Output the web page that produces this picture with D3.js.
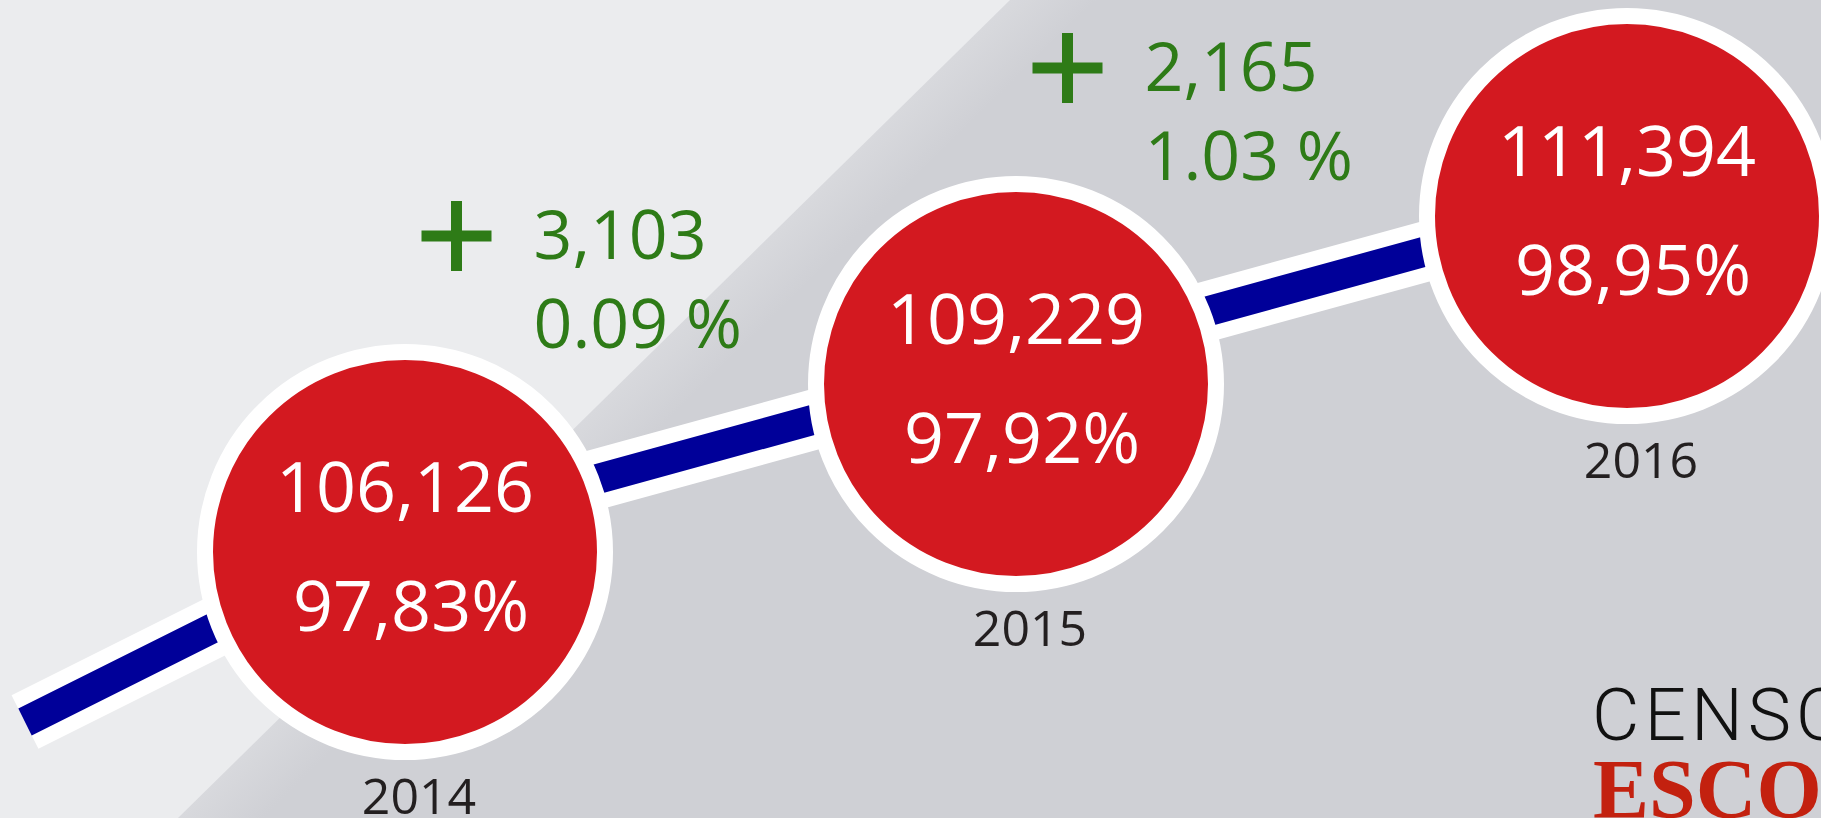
<!DOCTYPE html>
<html>
<head>
<meta charset="utf-8">
<script src="https://cdn.jsdelivr.net/npm/d3@7"></script>
<style>
  html, body { margin: 0; padding: 0; background: #ebecee; overflow: hidden; }
  svg { display: block; }
</style>
</head>
<body>
<svg id="chart" width="1821" height="818"></svg>
<script>
// ---- data ----
const years = [2014, 2015, 2016];
const enrollments = [106126, 109229, 111394];
const rates = [97.83, 97.92, 98.95];
const logoTop = "CENSO";
const logoBottom = "ESCOLAR";

// ---- formatting ----
const fmtThousands = d3.format(",");
const ptLocale = d3.formatLocale({ decimal: ",", thousands: ".", grouping: [3], currency: ["", ""] });
const fmtRate = v => ptLocale.format(".2f")(v) + "%";
const fmtDelta = v => d3.format(".2f")(v) + " %";

const W = 1821, H = 818;
const svg = d3.select("#chart");

// ---- background ----
const defs = svg.append("defs");
const grad = defs.append("linearGradient")
  .attr("id", "bgGrad").attr("gradientUnits", "userSpaceOnUse")
  .attr("x1", 594).attr("y1", 409).attr("x2", 594 + 0.70 * 60).attr("y2", 409 + 0.713 * 60);
grad.append("stop").attr("offset", 0).attr("stop-color", "#d8d9dd");
grad.append("stop").attr("offset", 1).attr("stop-color", "#cfd0d5");

svg.append("rect").attr("width", W).attr("height", H).attr("fill", "#ebecee");
svg.append("path")
  .attr("d", d3.line()([[1010, 0], [W, 0], [W, H], [178, H]]) + "Z")
  .attr("fill", "url(#bgGrad)");

// ---- scales ----
const x = d3.scaleLinear().domain([2014, 2016]).range([405, 1627]);
const y = d3.scaleLinear().domain([2014, 2016]).range([552, 216]);

const R = 200;            // circle radius (to middle of white ring)
const LINE_OFFSET = -20;  // line rides slightly above the circle centres

// ---- connecting line ----
const pts = years.map(yr => [x(yr), y(yr) + LINE_OFFSET]);
const leadIn = [pts[0][0] - 380, pts[0][1] + 190];
const linePts = [leadIn, ...pts];
const lineGen = d3.line();

svg.append("path")
  .attr("d", lineGen(linePts))
  .attr("fill", "none").attr("stroke", "#ffffff")
  .attr("stroke-width", 60).attr("stroke-linecap", "butt").attr("stroke-linejoin", "round");
svg.append("path")
  .attr("d", lineGen(linePts))
  .attr("fill", "none").attr("stroke", "#000099")
  .attr("stroke-width", 30).attr("stroke-linecap", "butt").attr("stroke-linejoin", "round");

// ---- circles ----
const nodes = years.map((yr, i) => ({ year: yr, value: enrollments[i], rate: rates[i] }));

const g = svg.selectAll("g.node").data(nodes).join("g").attr("class", "node")
  .attr("transform", d => `translate(${x(d.year)},${y(d.year)})`);

g.append("circle")
  .attr("r", R)
  .attr("fill", "#d31920")
  .attr("stroke", "#ffffff")
  .attr("stroke-width", 16);

g.append("text")
  .attr("x", 0).attr("y", -40)
  .attr("text-anchor", "middle")
  .attr("font-family", "'Open Sans', 'Noto Sans', sans-serif")
  .attr("font-size", 70)
  .attr("fill", "#ffffff")
  .text(d => fmtThousands(d.value));

g.append("text")
  .attr("x", 6).attr("y", 79)
  .attr("text-anchor", "middle")
  .attr("font-family", "'Open Sans', 'Noto Sans', sans-serif")
  .attr("font-size", 70)
  .attr("fill", "#ffffff")
  .text(d => fmtRate(d.rate));

g.append("text")
  .attr("x", 14).attr("y", 262)
  .attr("text-anchor", "middle")
  .attr("font-family", "'Open Sans', 'Noto Sans', sans-serif")
  .attr("font-size", 50)
  .attr("fill", "#231f20")
  .text(d => d.year);

// ---- growth annotations ----
const deltas = d3.pairs(nodes).map(([a, b]) => ({
  mx: (x(a.year) + x(b.year)) / 2,
  my: (y(a.year) + y(b.year)) / 2,
  abs: b.value - a.value,
  pct: Math.round((b.rate - a.rate) * 100) / 100
}));

const green = "#2e7b17";
const ag = svg.selectAll("g.delta").data(deltas).join("g").attr("class", "delta")
  .attr("transform", d => `translate(${d.mx},${d.my})`);

const ARM = 35, TH = 11;
ag.append("rect").attr("x", -254 - ARM).attr("y", -232 - TH / 2).attr("width", 2 * ARM).attr("height", TH).attr("fill", green);
ag.append("rect").attr("x", -254 - TH / 2).attr("y", -232 - ARM).attr("width", TH).attr("height", 2 * ARM).attr("fill", green);

ag.append("text")
  .attr("x", -177).attr("y", -209)
  .attr("font-family", "'Open Sans', 'Noto Sans', sans-serif")
  .attr("font-size", 68).attr("fill", green)
  .text(d => fmtThousands(d.abs));
ag.append("text")
  .attr("x", -177).attr("y", -120)
  .attr("font-family", "'Open Sans', 'Noto Sans', sans-serif")
  .attr("font-size", 68).attr("fill", green)
  .text(d => fmtDelta(d.pct));

// ---- logo (cropped at the corner) ----
svg.append("text")
  .attr("x", 1592).attr("y", 740)
  .attr("font-family", "Roboto, Lato, sans-serif")
  .attr("font-weight", 300)
  .attr("font-size", 73)
  .attr("letter-spacing", 5)
  .attr("fill", "#111111")
  .text(logoTop);
svg.append("text")
  .attr("x", 1593).attr("y", 818)
  .attr("font-family", "'Liberation Serif', 'DejaVu Serif', serif")
  .attr("font-weight", 700)
  .attr("font-size", 84)
  .attr("fill", "#c3210f")
  .text(logoBottom);
</script>
</body>
</html>
